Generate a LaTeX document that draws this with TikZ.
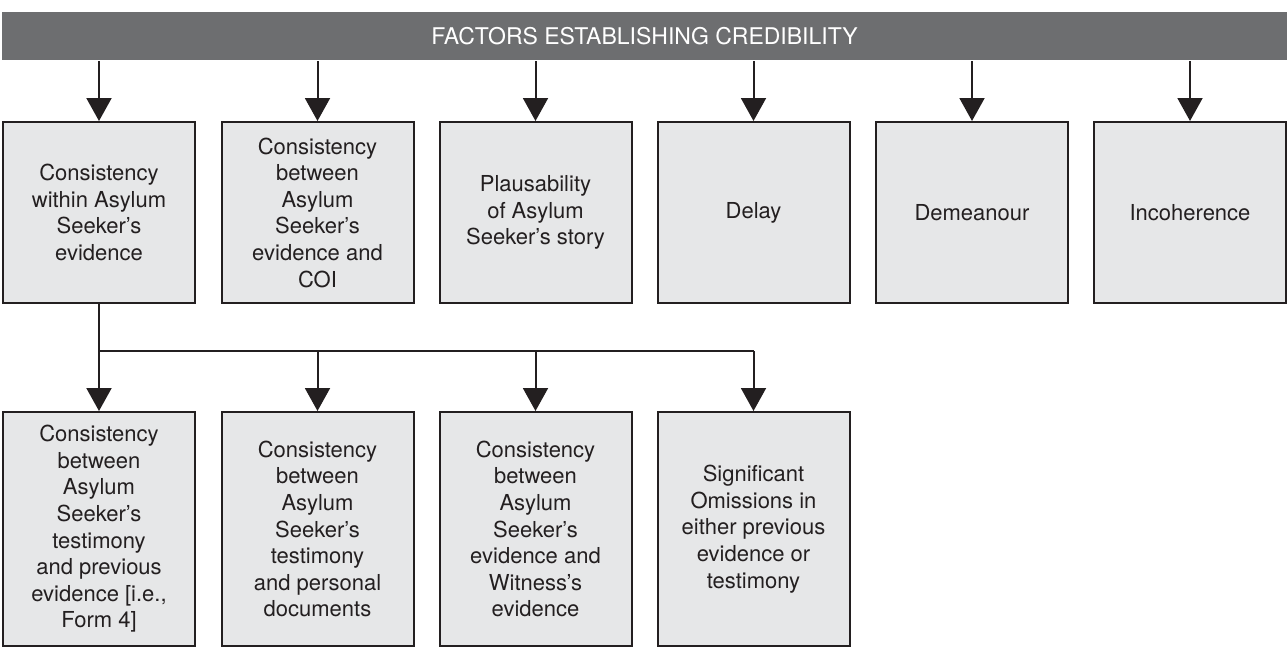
\documentclass[tikz,border=0pt]{standalone}
\usepackage{fontspec}
\setmainfont{TeX Gyre Heros}
\usetikzlibrary{arrows.meta}
\definecolor{bargray}{HTML}{6D6E70}
\definecolor{boxfill}{HTML}{E6E7E8}
\definecolor{ink}{HTML}{231F20}
\tikzset{
  box/.style={draw=ink, line width=2pt, fill=boxfill, text=ink, align=center,
    minimum width=192pt, inner sep=0pt, font=\fontsize{22}{26.6}\selectfont},
  topbox/.style={box, minimum height=181pt},
  botbox/.style={box, minimum height=234pt},
  arr/.style={draw=ink, line width=2pt, -{Triangle[width=25pt,length=23pt]}},
  conn/.style={draw=ink, line width=2pt},
}
\begin{document}
\begin{tikzpicture}[x=1pt,y=-1pt]
\useasboundingbox (0,0) rectangle (1287,653);
\node[fill=bargray, text=white, minimum width=1285pt, minimum height=48pt, inner sep=0pt,
  font=\fontsize{23}{27}\selectfont] (bar) at (644.5,36) {FACTORS ESTABLISHING CREDIBILITY};

\node[topbox] (t1) at (99,212.5) {Consistency\\within Asylum\\Seeker’s\\evidence};
\node[topbox] (t2) at (317.5,212.5) {Consistency\\between\\Asylum\\Seeker’s\\evidence and\\COI};
\node[topbox] (t3) at (535.5,212.5) {Plausability\\of Asylum\\Seeker’s story};
\node[topbox] (t4) at (753.5,212.5) {Delay};
\node[topbox] (t5) at (972,212.5) {Demeanour};
\node[topbox] (t6) at (1190,212.5) {Incoherence};

\node[botbox] (b1) at (99,529) {Consistency\\between\\Asylum\\Seeker’s\\testimony\\and previous\\evidence [i.e.,\\Form 4]};
\node[botbox] (b2) at (317.5,529) {Consistency\\between\\Asylum\\Seeker’s\\testimony\\and personal\\documents};
\node[botbox] (b3) at (535.5,529) {Consistency\\between\\Asylum\\Seeker’s\\evidence and\\Witness’s\\evidence};
\node[botbox] (b4) at (753.5,529) {Significant\\Omissions in\\either previous\\evidence or\\testimony};

\foreach \i in {1,...,6} {
  \draw[arr] (bar.south -| t\i.north) ++(0,1) -- (t\i.north);
}

\coordinate (j1) at (99,351);
\coordinate (j4) at (753.5,351);
\draw[conn] (t1.south) -- (j1) -- (j4);
\foreach \i in {1,...,4} {
  \draw[arr] (j1 -| b\i.north) -- (b\i.north);
}
\end{tikzpicture}
\end{document}
